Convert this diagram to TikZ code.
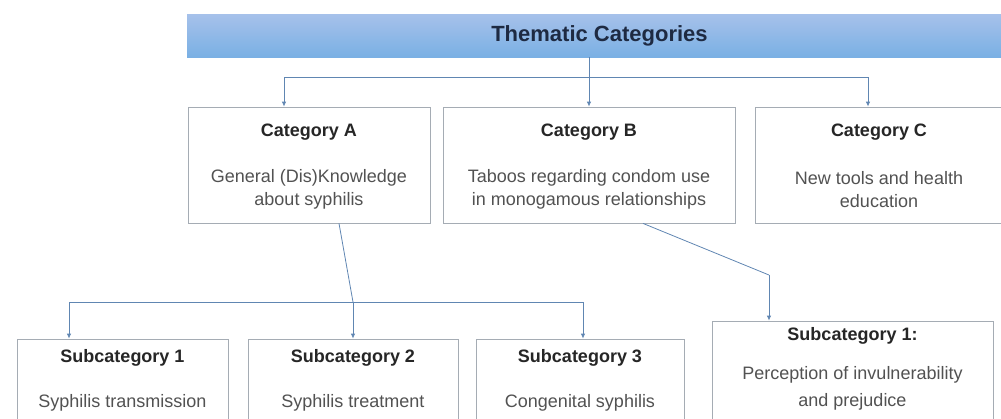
\documentclass[tikz,border=0pt]{standalone}
\usepackage{fontspec}
\setmainfont{Liberation Sans}
\usetikzlibrary{arrows.meta,shadows}
\definecolor{linkblue}{RGB}{96,134,178}
\definecolor{boxgray}{RGB}{165,172,180}
\definecolor{bartop}{RGB}{166,193,234}
\definecolor{barmid}{RGB}{170,193,222}
\definecolor{barbot}{RGB}{122,176,228}
\definecolor{headtext}{RGB}{30,42,66}

\begin{document}
\begin{tikzpicture}[x=1pt,y=-1pt,
  box/.style={draw=boxgray, line width=0.8pt, fill=white, inner sep=0pt,
    drop shadow={shadow xshift=1.2pt, shadow yshift=-1.2pt, opacity=0.25}},
  ttl/.style={font=\fontsize{18}{21}\selectfont\bfseries, text=black!85},
  dsc/.style={font=\fontsize{18}{23}\selectfont, text=black!68, align=center},
  link/.style={draw=linkblue, line width=0.8pt},
  >={Latex[length=5pt,width=4.5pt]}]
\useasboundingbox (0,0) rectangle (1001,418);
\node[top color=bartop, middle color=barmid, bottom color=barbot,
  minimum width=825pt, minimum height=43pt, inner sep=0pt,
  font=\fontsize{22}{26}\selectfont\bfseries, text=headtext]
  (banner) at (599.5,35.5) {Thematic Categories};
\node[box, minimum width=242pt, minimum height=116pt] (catA) at (309,165) {};
\node[box, minimum width=292pt, minimum height=116pt] (catB) at (589,165) {};
\node[box, minimum width=248pt, minimum height=116pt] (catC) at (879,165) {};
\node[box, minimum width=211pt, minimum height=110pt] (sub1) at (122.5,394) {};
\node[box, minimum width=210pt, minimum height=110pt] (sub2) at (353,394) {};
\node[box, minimum width=208pt, minimum height=110pt] (sub3) at (580,394) {};
\node[box, minimum width=281pt, minimum height=120pt] (subB) at (852.5,381) {};
\node[ttl] (catA-t) at ([yshift=-26pt]catA.north) {Category A};
\node[dsc] (catA-d) at ([yshift=-82.5pt]catA.north) {General (Dis)Knowledge\\about syphilis};
\node[ttl] (catB-t) at ([yshift=-26pt]catB.north) {Category B};
\node[dsc] (catB-d) at ([yshift=-82.5pt]catB.north) {Taboos regarding condom use\\in monogamous relationships};
\node[ttl] (catC-t) at ([yshift=-26pt]catC.north) {Category C};
\node[dsc] (catC-d) at ([yshift=-82.5pt]catC.north) {New tools and health\\education};
\node[ttl] (sub1-t) at ([yshift=-19pt]sub1.north) {Subcategory 1};
\node[dsc] (sub1-d) at ([yshift=-64pt]sub1.north) {Syphilis transmission};
\node[ttl] (sub2-t) at ([yshift=-19pt]sub2.north) {Subcategory 2};
\node[dsc] (sub2-d) at ([yshift=-64pt]sub2.north) {Syphilis treatment};
\node[ttl] (sub3-t) at ([yshift=-19pt]sub3.north) {Subcategory 3};
\node[dsc] (sub3-d) at ([yshift=-64pt]sub3.north) {Congenital syphilis};
\node[ttl] (subB-t) at ([yshift=-15pt]subB.north) {Subcategory 1:};
\node[dsc, font=\fontsize{18}{27}\selectfont] (subB-d) at ([yshift=-68pt]subB.north) {Perception of invulnerability\\and prejudice};
\coordinate (hubL) at (284,77);
\coordinate (hubR) at (868,77);
\coordinate (hubS1) at (69,302);
\coordinate (hubS3) at (583,302);
\coordinate (bendB) at (769,275);
\draw[link,->] (banner.south -| catB.north) -- (catB.north);
\draw[link] (hubL) -- (hubR);
\draw[link,->] (hubL) -- (hubL |- catA.north);
\draw[link,->] (hubR) -- (hubR |- catC.north);
\draw[link] ([xshift=30pt]catA.south) -- (sub2.north |- hubS1);
\draw[link] (hubS1) -- (hubS3);
\draw[link,->] (hubS1) -- (hubS1 |- sub1.north);
\draw[link,->] (sub2.north |- hubS1) -- (sub2.north);
\draw[link,->] (hubS3) -- (hubS3 |- sub3.north);
\draw[link] ([xshift=54pt]catB.south) -- (bendB);
\draw[link,->] (bendB) -- (bendB |- subB.north);
\end{tikzpicture}
\end{document}
